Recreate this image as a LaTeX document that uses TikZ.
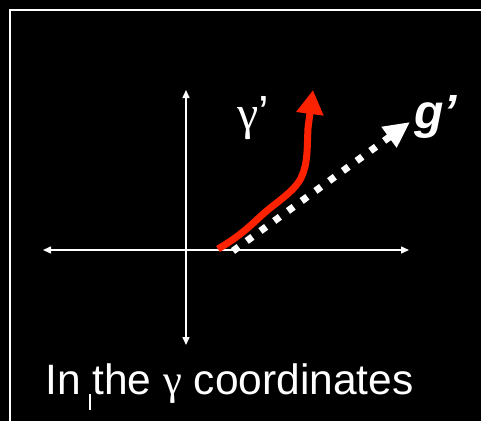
\documentclass[tikz,border=0pt]{standalone}
\usepackage{fontspec}
\setmainfont{Liberation Sans}
\newfontfamily\serifgr{Liberation Serif}
\usetikzlibrary{arrows.meta}
\definecolor{arrowred}{RGB}{255,34,0}
\begin{document}
\begin{tikzpicture}[x=1pt,y=-1pt,
  axisline/.style={white, line width=1.5pt, {Triangle[length=8pt,width=7pt]}-{Triangle[length=8pt,width=7pt]}},
  framestyle/.style={white, line width=2pt},
  redarrow/.style={arrowred, line width=7pt, -{Triangle[length=24pt,width=26pt]}},
  dotarrow/.style={white, line width=7pt, dash pattern=on 7pt off 10pt, -{Triangle[length=26pt,width=24pt]}},
  label/.style={white, anchor=base west, inner sep=0pt}]
\fill[black] (0,0) rectangle (481,421);
\useasboundingbox (0,0) rectangle (481,421);
% frame
\coordinate (fbl) at (10,440);
\coordinate (ftl) at (10,10);
\coordinate (ftr) at (500,10);
\draw[framestyle] (fbl) -- (ftl) -- (ftr);
% axes
\coordinate (xl) at (43,250);
\coordinate (xr) at (409,250);
\coordinate (yt) at (186,90);
\coordinate (yb) at (186,345);
\draw[axisline] (xl) -- (xr);
\draw[axisline] (yb) -- (yt);
% dotted arrow g'
\coordinate (ds) at (233,251);
\coordinate (dt) at (410,122);
\draw[dotarrow] (ds) -- (dt);
% red arrow gamma'
\coordinate (rs) at (218,249);
\coordinate (rt) at (313,90);
\draw[redarrow] (rs) .. controls (240,236) and (250,226) .. (262,215)
  .. controls (275,203) and (294,192) .. (301,178)
  .. controls (308,164) and (307,148) .. (308,128) -- (rt);
% labels
\node[label] (gammap) at (237,129) {\fontsize{48}{50}\selectfont\serifgr γ\normalfont’};
\node[label] (gp) at (414,128) {\fontsize{48}{50}\selectfont\bfseries\itshape g’};
\node[label] (cap) at (45,394) {\fontsize{42.5}{45}\selectfont In the {\serifgr γ} coordinates};
% cursor tick
\coordinate (ct) at (90,394);
\coordinate (cb) at (90,410);
\draw[white, line width=1.5pt] (ct) -- (cb);
\end{tikzpicture}
\end{document}
